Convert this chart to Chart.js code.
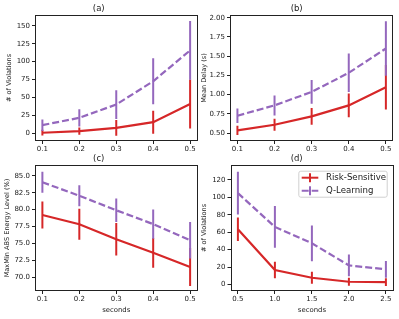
<!DOCTYPE html>
<html>
<head>
<meta charset="utf-8">
<script src="https://cdn.jsdelivr.net/npm/chart.js@4.4.1/dist/chart.umd.min.js"></script>
<style>
  html, body { margin: 0; padding: 0; background: #fff; }
  body { width: 399px; height: 319px; position: relative; overflow: hidden; }
  canvas { position: absolute; }
</style>
</head>
<body>
<canvas id="ca" width="200" height="160" style="left:0px;top:0px;width:200px;height:160px"></canvas>
<canvas id="cb" width="199" height="160" style="left:200px;top:0px;width:199px;height:160px"></canvas>
<canvas id="cc" width="200" height="169" style="left:0px;top:150px;width:200px;height:169px"></canvas>
<canvas id="cd" width="199" height="169" style="left:200px;top:150px;width:199px;height:169px"></canvas>
<script>
// ---- data ----
const seriesNames = ['Risk-Sensitive', 'Q-Learning'];

const xA = [0.1, 0.2, 0.3, 0.4, 0.5];
const rsA = [1, 3.2, 7.9, 15.7, 41];
const rsAErr = [4, 5, 11, 16, 34];
const qlA = [11.6, 21.8, 40.3, 72.7, 115.7];
const qlAErr = [8, 12, 20, 32, 41];
const yTicksA = [0, 25, 50, 75, 100, 125, 150];

const xB = [0.1, 0.2, 0.3, 0.4, 0.5];
const rsB = [0.534, 0.608, 0.717, 0.86, 1.095];
const rsBErr = [0.06, 0.077, 0.11, 0.155, 0.29];
const qlB = [0.726, 0.86, 1.035, 1.283, 1.60];
const qlBErr = [0.095, 0.13, 0.155, 0.25, 0.355];
const yTicksB = [0.5, 0.75, 1.0, 1.25, 1.5, 1.75, 2.0];

const xC = [0.1, 0.2, 0.3, 0.4, 0.5];
const rsC = [79.2, 77.83, 75.6, 73.6, 71.5];
const rsCErr = [2.0, 2.3, 2.4, 2.2, 2.8];
const qlC = [84.05, 82.05, 79.9, 77.85, 75.45];
const qlCErr = [1.55, 1.55, 1.75, 2.15, 2.7];
const yTicksC = [70.0, 72.5, 75.0, 77.5, 80.0, 82.5, 85.0];

const xD = [0.5, 1.0, 1.5, 2.0, 2.5];
const rsD = [63.3, 16.5, 7.7, 3.1, 2.7];
const rsDErr = [13.5, 9.5, 7, 4.5, 4.4];
const qlD = [104.7, 66, 47.2, 21.9, 17.3];
const qlDErr = [24.5, 24, 20.5, 12.5, 9.5];
const yTicksD = [0, 20, 40, 60, 80, 100, 120];

// ---- styles ----
const RED = '#d62728';
const PURPLE = '#9467bd';
const FONT = 'DejaVu Sans';
const TXT = '#1a1a1a';

function pts(xs, ys) { return xs.map((x, i) => ({ x: x, y: ys[i] })); }

const errorBarPlugin = {
  id: 'errbars',
  afterDatasetsDraw(chart) {
    const ctx = chart.ctx;
    const xs = chart.scales.x, ys = chart.scales.y;
    ctx.save();
    ctx.beginPath();
    ctx.rect(chart.chartArea.left, chart.chartArea.top, chart.chartArea.right - chart.chartArea.left, chart.chartArea.bottom - chart.chartArea.top);
    ctx.clip();
    chart.data.datasets.forEach(ds => {
      ctx.strokeStyle = ds.borderColor;
      ctx.lineWidth = 2;
      ctx.setLineDash([]);
      ds.data.forEach((p, i) => {
        const e = ds.err[i];
        const px = xs.getPixelForValue(p.x);
        ctx.beginPath();
        ctx.moveTo(px, ys.getPixelForValue(p.y - e));
        ctx.lineTo(px, ys.getPixelForValue(p.y + e));
        ctx.stroke();
      });
    });
    ctx.restore();
    // frame
    const a = chart.chartArea;
    ctx.save();
    ctx.strokeStyle = '#222';
    ctx.lineWidth = 1;
    ctx.strokeRect(Math.round(a.left) + 0.5, Math.round(a.top) + 0.5, Math.round(a.right - a.left) - 1, Math.round(a.bottom - a.top) - 1);
    ctx.restore();
  }
};

const legendPlugin = {
  id: 'inlegend',
  afterDraw(chart) {
    const ctx = chart.ctx, a = chart.chartArea;
    const w = 88.4, h = 26;
    const bx = a.right - 6.6 - w, by = a.top + 5.7;
    ctx.save();
    ctx.fillStyle = 'rgba(255,255,255,0.85)';
    ctx.strokeStyle = '#d0d0d0';
    ctx.lineWidth = 1;
    ctx.beginPath();
    ctx.roundRect(bx + 0.5, by + 0.5, w, h, 2);
    ctx.fill();
    ctx.stroke();
    chart.data.datasets.forEach((ds, i) => {
      const cy = by + 7 + i * 13;
      ctx.strokeStyle = ds.borderColor;
      ctx.lineWidth = 2;
      ctx.setLineDash(ds.borderDash || []);
      ctx.beginPath();
      ctx.moveTo(bx + 3.4, cy);
      ctx.lineTo(bx + 20, cy);
      ctx.stroke();
      ctx.setLineDash([]);
      ctx.beginPath();
      ctx.moveTo(bx + 11.7, cy - 4.5);
      ctx.lineTo(bx + 11.7, cy + 4.5);
      ctx.stroke();
      ctx.fillStyle = TXT;
      ctx.font = '8.6px "' + FONT + '"';
      ctx.textBaseline = 'middle';
      ctx.textAlign = 'left';
      ctx.fillText(ds.label, bx + 27.7, cy);
    });
    ctx.restore();
  }
};

function makeChart(id, o) {
  const datasets = [
    { label: seriesNames[0], data: pts(o.x, o.rs), err: o.rsErr, borderColor: RED, backgroundColor: RED,
      borderWidth: 2.2, pointRadius: 0, showLine: true, tension: 0 },
    { label: seriesNames[1], data: pts(o.x, o.ql), err: o.qlErr, borderColor: PURPLE, backgroundColor: PURPLE,
      borderWidth: 2.2, borderDash: [7, 3], pointRadius: 0, showLine: true, tension: 0 }
  ];
  const plugins = [errorBarPlugin];
  if (o.legend) plugins.push(legendPlugin);
  return new Chart(document.getElementById(id), {
    type: 'scatter',
    data: { datasets: datasets },
    plugins: plugins,
    options: {
      responsive: false,
      animation: false,
      events: [],
      layout: { padding: { left: 0, right: o.padRight, top: 0, bottom: 0 } },
      plugins: {
        legend: { display: false },
        tooltip: { enabled: false },
        title: { display: true, text: o.title, color: TXT, font: { family: FONT, size: 8.5, weight: 'normal' },
                 padding: { top: 3.9, bottom: 0.9 } }
      },
      scales: {
        x: {
          type: 'linear', min: o.xmin, max: o.xmax,
          afterBuildTicks: s => { s.ticks = o.x.map(v => ({ value: v })); },
          afterFit: s => { s.height = o.xh; },
          ticks: { color: TXT, font: { family: FONT, size: 7 }, padding: 1, autoSkip: false, maxRotation: 0,
                   callback: v => Number(v).toFixed(1) },
          grid: { display: true, drawOnChartArea: false, drawTicks: true, tickLength: 3, tickColor: '#222', tickWidth: 1 },
          border: { display: false },
          title: { display: !!o.xtitle, text: o.xtitle || '', color: TXT, font: { family: FONT, size: 6.9 },
                   padding: { top: 0, bottom: 4.6 } }
        },
        y: {
          type: 'linear', min: o.ymin, max: o.ymax,
          afterBuildTicks: s => { s.ticks = o.yticks.map(v => ({ value: v })); },
          afterFit: s => { s.width = o.yw; },
          ticks: { color: TXT, font: { family: FONT, size: 7 }, padding: 2, autoSkip: false,
                   callback: v => Number(v).toFixed(o.ydec) },
          grid: { display: true, drawOnChartArea: false, drawTicks: true, tickLength: 3, tickColor: '#222', tickWidth: 1 },
          border: { display: false },
          title: { display: true, text: o.ytitle, color: TXT, font: { family: FONT, size: 6.6 },
                   padding: o.ytpad }
        }
      }
    }
  });
}

makeChart('ca', { title: '(a)', x: xA, rs: rsA, rsErr: rsAErr, ql: qlA, qlErr: qlAErr,
  xmin: 0.08, xmax: 0.52, ymin: -10.5, ymax: 165, yticks: yTicksA, ydec: 0,
  ytitle: '# of Violations', ytpad: 5.8, yw: 35, xh: 19, padRight: 2.5 });
makeChart('cb', { title: '(b)', x: xB, rs: rsB, rsErr: rsBErr, ql: qlB, qlErr: qlBErr,
  xmin: 0.08, xmax: 0.52, ymin: 0.397, ymax: 2.035, yticks: yTicksB, ydec: 2,
  ytitle: 'Mean Delay (s)', ytpad: 0.5, yw: 30, xh: 19, padRight: 5.7 });
makeChart('cc', { title: '(c)', x: xC, rs: rsC, rsErr: rsCErr, ql: qlC, qlErr: qlCErr,
  xmin: 0.08, xmax: 0.52, ymin: 67.95, ymax: 86.6, yticks: yTicksC, ydec: 1,
  ytitle: 'MaxMin ABS Energy Level (%)', ytpad: 3.1, yw: 35, xh: 28, padRight: 2.5, xtitle: 'seconds' });
makeChart('cd', { title: '(d)', x: xD, rs: rsD, rsErr: rsDErr, ql: qlD, qlErr: qlDErr, legend: true,
  xmin: 0.4, xmax: 2.6, ymin: -7.5, ymax: 137, yticks: yTicksD, ydec: 0,
  ytitle: '# of Violations', ytpad: 0, yw: 30.5, xh: 28, padRight: 5.7, xtitle: 'seconds' });
</script>
</body>
</html>
